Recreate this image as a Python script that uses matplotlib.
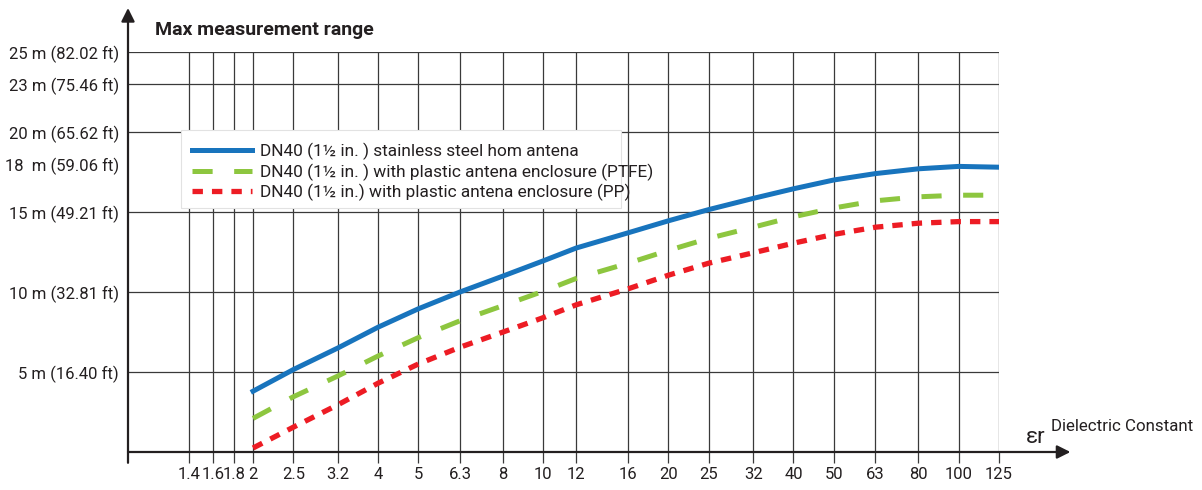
import matplotlib
matplotlib.use("Agg")
import matplotlib.pyplot as plt
from matplotlib.patches import Rectangle
from matplotlib.ticker import FixedLocator, NullFormatter

plt.rcParams['font.family'] = ['Roboto', 'DejaVu Sans']
plt.rcParams['lines.scale_dashes'] = False

INK = '#231f20'
GRID = '#3a3a3a'

# dielectric constant (x) and max range in metres (y)
eps_ticks = [1.4, 1.6, 1.8, 2, 2.5, 3.2, 4, 5, 6.3, 8, 10, 12, 16, 20, 25, 32, 40, 50, 63, 80, 100, 125]
eps = [2, 2.5, 3.2, 4, 5, 6.3, 8, 10, 12, 16, 20, 25, 32, 40, 50, 63, 80, 100, 125]
steel_horn = [3.8, 5.15, 6.5, 7.8, 8.95, 10.0, 11.0, 11.95, 12.75, 13.7, 14.45, 15.15, 15.85,
              16.45, 17.0, 17.4, 17.7, 17.85, 17.8]
ptfe = [2.1, 3.45, 4.75, 6.0, 7.15, 8.2, 9.15, 10.05, 10.85, 11.8, 12.6, 13.35, 14.05,
        14.7, 15.25, 15.7, 15.95, 16.05, 16.05]
pp = [0.25, 1.55, 2.95, 4.3, 5.5, 6.55, 7.5, 8.4, 9.2, 10.2, 11.05, 11.8, 12.45,
      13.05, 13.6, 14.05, 14.3, 14.4, 14.4]

y_grid = [5, 10, 15, 20, 23, 25]
y_labels = ['5 m (16.40 ft)', '10 m (32.81 ft)', '15 m (49.21 ft)', '20 m (65.62 ft)',
            '23 m (75.46 ft)', '25 m (82.02 ft)']
y_extra = [18]
y_extra_labels = ['18  m (59.06 ft)']

labels = ['DN40 (1½ in. ) stainless steel hom antena',
          'DN40 (1½ in. ) with plastic antena enclosure (PTFE)',
          'DN40 (1½ in.) with plastic antena enclosure (PP)']

fig = plt.figure(figsize=(12.02, 4.90), dpi=100)
ax = fig.add_axes([128 / 1202, 38 / 490, 871 / 1202, 400 / 490])

ax.plot(eps, steel_horn, color='#1874bd', lw=3.6, label=labels[0], zorder=3)
ax.plot(eps, ptfe, color='#8dc63f', lw=3.6, dashes=(14.5, 15.5), label=labels[1], zorder=3)
ax.plot(eps, pp, color='#ed1c24', lw=3.8, dashes=(7.5, 6.5), label=labels[2], zorder=3)

ax.set_xscale('log')
ax.set_xlim(1.0, 125)
ax.set_ylim(0, 25)

ax.xaxis.set_major_locator(FixedLocator(eps_ticks))
ax.xaxis.set_minor_locator(FixedLocator([]))
ax.set_xticklabels([str(v) for v in eps_ticks])
ax.xaxis.set_minor_formatter(NullFormatter())

ax.yaxis.set_major_locator(FixedLocator(y_grid))
ax.set_yticklabels(y_labels)
ax.yaxis.set_minor_locator(FixedLocator(y_extra))
ax.set_yticklabels(y_extra_labels, minor=True)

ax.grid(True, which='major', color=GRID, lw=0.9)
ax.set_axisbelow(True)

ax.tick_params(axis='x', which='major', direction='out', length=8, width=0.9,
               color=GRID, labelsize=12, labelcolor=INK, pad=3)
ax.tick_params(axis='y', which='both', length=0, labelsize=12, labelcolor=INK, pad=6.5)

for s in ax.spines.values():
    s.set_visible(False)

# axes with arrows
ax.annotate('', xy=(1.082, 0), xytext=(0, 0), xycoords='axes fraction',
            arrowprops=dict(arrowstyle='-|>', color=INK, lw=1.6, mutation_scale=20,
                            shrinkA=0, shrinkB=0))
ax.annotate('', xy=(0, 1.11), xytext=(0, -0.027), xycoords='axes fraction',
            arrowprops=dict(arrowstyle='-|>', color=INK, lw=1.6, mutation_scale=20,
                            shrinkA=0, shrinkB=0))

ax.text(1.031, 0.037, 'εr', transform=ax.transAxes, fontsize=16, color=INK,
        ha='left', va='center')
ax.text(1.06, 0.063, 'Dielectric Constant', transform=ax.transAxes, fontsize=12.2,
        color=INK, ha='left', va='center')

fig.text(155 / 1202, 1 - 30 / 490, 'Max measurement range', fontsize=14,
         fontweight='bold', color=INK, ha='left', va='center')

# white legend panel (text runs past its right edge, as in the original)
ax.add_patch(Rectangle((0.061, 0.61), 0.505, 0.195, transform=ax.transAxes,
                       facecolor='white', edgecolor='#e2e2e2', lw=0.8, zorder=2))
leg = ax.legend(loc='center left', bbox_to_anchor=(0.0735, 0.70), borderaxespad=0,
                borderpad=0, frameon=False, fontsize=12.4, handlelength=3.5,
                handletextpad=0.45, labelspacing=0.2)
leg.set_zorder(4)
for t in leg.get_texts():
    t.set_color(INK)

fig.savefig('out.png', dpi=100, facecolor='white')
